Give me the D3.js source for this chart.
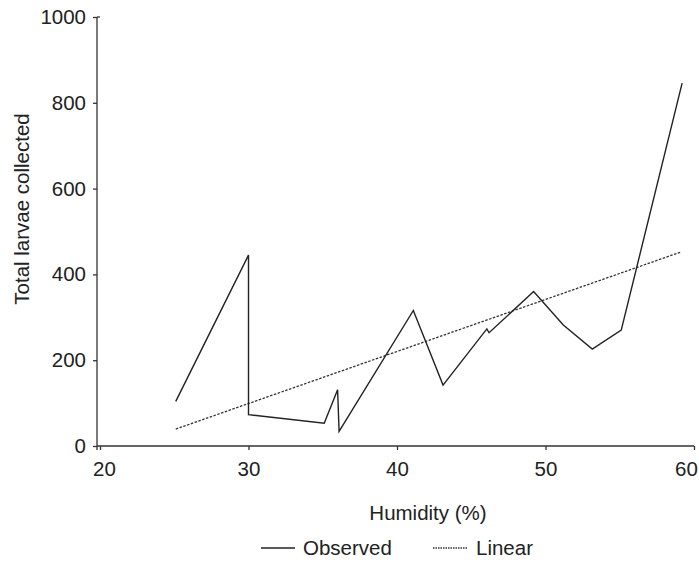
<!DOCTYPE html>
<html><head><meta charset="utf-8">
<script src="https://cdn.jsdelivr.net/npm/d3@7"></script>
<style>body{margin:0;background:#fff}svg{display:block}text{font-family:"Liberation Sans",Arial,sans-serif;fill:#222}</style>
</head><body>
<svg id="c" width="699" height="562"></svg>
<script>
// Observed data (humidity %, total larvae)
const obsHumidity = [25.1, 30.0, 30.0, 35.1, 36.0, 36.1, 41.1, 43.1, 46.05, 46.2, 49.2, 51.2, 53.15, 55.1, 59.2];
const obsLarvae   = [104, 445, 73, 53, 131, 34, 316, 142, 273, 264, 360, 282, 226, 270, 846];
// Linear trend endpoints
const linHumidity = [25.1, 59.1];
const linLarvae   = [39.5, 452];
const xTicks = [20, 30, 40, 50, 60];
const yTicks = [0, 200, 400, 600, 800, 1000];
const legendLabels = ["Observed", "Linear"];

const svg = d3.select("#c");
const x = d3.scaleLinear().domain([20, 60]).range([100, 694]);
const y = d3.scaleLinear().domain([0, 1000]).range([446, 17]);
const axisColor = "#333";
const fs = "20.5px";

// x axis
const gx = svg.append("g").attr("transform", "translate(0,446)")
  .call(d3.axisBottom(x).tickValues(xTicks).tickSize(4).tickPadding(11).tickFormat(d3.format("d")));
gx.select(".domain").remove();
svg.append("line").attr("x1", 97).attr("x2", x(60)).attr("y1", 446).attr("y2", 446)
  .attr("stroke", axisColor).attr("stroke-width", 1.3);
gx.selectAll("line").attr("stroke", axisColor).attr("stroke-width", 1.3);
gx.selectAll("text").style("font-size", fs).attr("fill", "#222")
  .attr("dx", d => d === 60 ? -8 : (d === 20 ? 4 : 0));

// y axis
const gy = svg.append("g").attr("transform", "translate(97,0)")
  .call(d3.axisLeft(y).tickValues(yTicks).tickSize(4).tickPadding(7).tickFormat(d3.format("d")));
gy.select(".domain").remove();
svg.append("line").attr("x1", 97).attr("x2", 97).attr("y1", y(1000)).attr("y2", 450)
  .attr("stroke", axisColor).attr("stroke-width", 1.3);
svg.append("line").attr("x1", 97).attr("x2", 100).attr("y1", y(1000)).attr("y2", y(1000))
  .attr("stroke", axisColor).attr("stroke-width", 1.3);
gy.selectAll("line").attr("stroke", axisColor).attr("stroke-width", 1.3);
gy.selectAll("text").style("font-size", fs).attr("fill", "#222");

// lines
const obs = obsHumidity.map((h, i) => [h, obsLarvae[i]]);
const lin = linHumidity.map((h, i) => [h, linLarvae[i]]);
const lineGen = d3.line().x(d => x(d[0])).y(d => y(d[1]));
svg.append("path").datum(lin).attr("d", lineGen).attr("fill", "none")
  .attr("stroke", "#333").attr("stroke-width", 1.3).attr("stroke-dasharray", "2.5,1.5");
svg.append("path").datum(obs).attr("d", lineGen).attr("fill", "none")
  .attr("stroke", "#222").attr("stroke-width", 1.4).attr("stroke-linejoin", "miter");

// axis titles
svg.append("text").attr("x", 428).attr("y", 520).attr("text-anchor", "middle")
  .style("font-size", fs).text("Humidity (%)");
svg.append("text").attr("transform", "translate(29,209) rotate(-90)").attr("text-anchor", "middle")
  .style("font-size", fs).text("Total larvae collected");

// legend
const leg = svg.append("g");
leg.append("line").attr("x1", 261).attr("x2", 295).attr("y1", 548).attr("y2", 548)
  .attr("stroke", "#222").attr("stroke-width", 1.4);
leg.append("text").attr("x", 303).attr("y", 555).style("font-size", fs).text(legendLabels[0]);
leg.append("line").attr("x1", 433).attr("x2", 468).attr("y1", 548).attr("y2", 548)
  .attr("stroke", "#333").attr("stroke-width", 1.3).attr("stroke-dasharray", "1.5,1");
leg.append("text").attr("x", 476).attr("y", 555).style("font-size", fs).text(legendLabels[1]);
</script>
</body></html>
